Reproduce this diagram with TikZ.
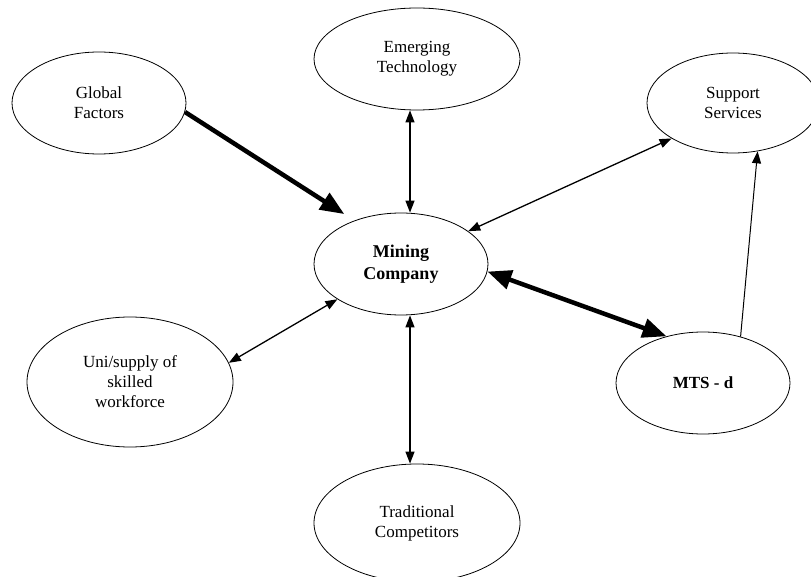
\documentclass[tikz,border=0pt]{standalone}
\usepackage{fontspec}
\setmainfont{Liberation Serif}
\usetikzlibrary{shapes.geometric,arrows.meta}
\tikzset{
bubble/.style = {draw, ellipse, align = center, inner sep=0pt, line width=0.8pt, font=\fontsize{17}{20}\selectfont},
link/.style = {<->, line width=1.3pt},
heavy/.style = {line width=4.5pt, >={Triangle[length=24pt,width=19pt]}}
}

\begin{document}
\begin{tikzpicture}[x=1pt, y=-1pt, >={Triangle[length=12pt,width=9pt]}]
    \useasboundingbox (0,0) rectangle (811,577);

    \node  [bubble, minimum width=174pt, minimum height=102pt] (global) at (99,103) {Global\\Factors};
    \node  [bubble, minimum width=206pt, minimum height=102pt] (emerg) at (417,59) {Emerging\\Technology};
    \node  [bubble, minimum width=172pt, minimum height=100pt] (support) at (733,103) {Support\\Services};

    \node  [bubble, minimum width=174pt, minimum height=102pt, font=\fontsize{18}{22}\selectfont\bfseries] (mining) at (401,264) {Mining\\Company};

    \node  [bubble, minimum width=206pt, minimum height=130pt] (uni) at (130,382) {Uni/supply of\\skilled\\workforce};
    \node  [bubble, minimum width=174pt, minimum height=102pt, font=\fontsize{17}{20}\selectfont\bfseries] (mts) at (703,383) {MTS - d};
    \node  [bubble, minimum width=206pt, minimum height=118pt] (trad) at (417,523) {Traditional\\Competitors};

    \draw[heavy,->, shorten >=12pt] (global.-6) -- (mining.137);
    \draw[link] ([xshift=-7pt]emerg.south) -- ([xshift=9pt]mining.north);
    \draw[link] (mining.26) -- (support.-150);
    \draw[link] (uni.11) -- (mining.-151);
    \draw[link] ([xshift=9pt]mining.south) -- ([xshift=-7pt]trad.north);
    \draw[heavy,<->] (mining.-5) -- (mts.128);
    \draw[->, line width=1pt] (mts.51) -- (support.-63);

\end{tikzpicture}
\end{document}
